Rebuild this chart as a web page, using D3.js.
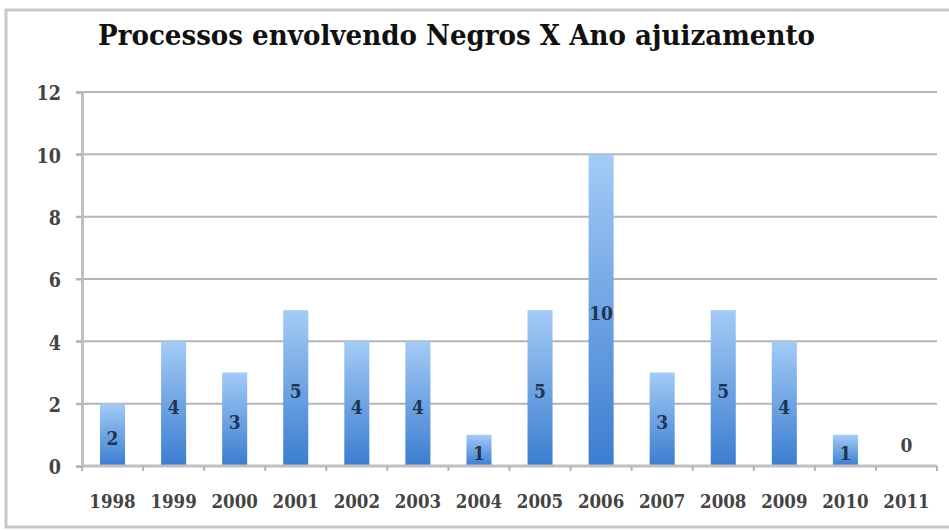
<!DOCTYPE html>
<html>
<head>
<meta charset="utf-8">
<script src="https://cdn.jsdelivr.net/npm/d3@7"></script>
<style>
  body { margin: 0; background: #fff; }
</style>
</head>
<body>
<script>
const years = ['1998', '1999', '2000', '2001', '2002', '2003', '2004', '2005', '2006', '2007', '2008', '2009', '2010', '2011']
const counts = [2, 4, 3, 5, 4, 4, 1, 5, 10, 3, 5, 4, 1, 0]
const yTicks = [0, 2, 4, 6, 8, 10, 12]
const title = 'Processos envolvendo Negros X Ano ajuizamento'

const w = 949
const h = 531
const plotLeft = 82
const plotRight = 937
const plotTop = 92
const plotBottom = 466
const labelFont = 'DejaVu Serif Condensed, DejaVu Serif, serif'

const svg = d3.select('body').append('svg')
  .attr('width', w)
  .attr('height', h)

// frame
svg.append('rect')
  .attr('x', 6).attr('y', 10)
  .attr('width', 960).attr('height', 517)
  .attr('fill', '#fff')
  .attr('stroke', '#c8c8c8')
  .attr('stroke-width', 3)

const defs = svg.append('defs')
const grad = defs.append('linearGradient')
  .attr('id', 'barGrad')
  .attr('x1', 0).attr('y1', 0).attr('x2', 0).attr('y2', 1)
grad.append('stop').attr('offset', '0%').attr('stop-color', '#a3cbf6')
grad.append('stop').attr('offset', '100%').attr('stop-color', '#3b7dd0')

const xScale = d3.scaleBand()
  .domain(years)
  .range([plotLeft, plotRight])
  .paddingInner(0.59)
  .paddingOuter(0.295)

const yScale = d3.scaleLinear()
  .domain([0, 12])
  .range([plotBottom, plotTop])

// gridlines
svg.append('g')
  .selectAll('line')
  .data(yTicks.filter(d => d > 0))
  .enter().append('line')
  .attr('x1', plotLeft - 6)
  .attr('x2', plotRight)
  .attr('y1', d => yScale(d))
  .attr('y2', d => yScale(d))
  .attr('stroke', '#b4b4b4')
  .attr('stroke-width', 2)

// y axis
const yAxis = d3.axisLeft(yScale).tickValues(yTicks).tickSize(6).tickPadding(15)
const gy = svg.append('g')
  .attr('transform', 'translate(' + plotLeft + ', 0)')
  .call(yAxis)
gy.select('.domain').attr('stroke', '#c0c0c0').attr('stroke-width', 3)
gy.selectAll('.tick line').attr('stroke', '#b4b4b4').attr('stroke-width', 2)
gy.selectAll('.tick text')
  .attr('font-family', labelFont)
  .attr('font-size', '19.5px')
  .attr('font-weight', 'bold')
  .attr('dy', '0.4em')
  .attr('fill', '#444')

// bars
svg.append('g')
  .selectAll('rect')
  .data(counts)
  .enter().append('rect')
  .attr('x', (d, i) => xScale(years[i]))
  .attr('y', d => yScale(d))
  .attr('width', xScale.bandwidth())
  .attr('height', d => plotBottom - yScale(d))
  .attr('fill', 'url(#barGrad)')

// x axis line + ticks between categories
const step = xScale.step()
const gx = svg.append('g')
gx.append('line')
  .attr('x1', plotLeft).attr('x2', plotRight)
  .attr('y1', plotBottom).attr('y2', plotBottom)
  .attr('stroke', '#c0c0c0').attr('stroke-width', 3)
gx.selectAll('line.tk')
  .data(d3.range(years.length + 1))
  .enter().append('line')
  .attr('class', 'tk')
  .attr('x1', i => plotLeft + i * step)
  .attr('x2', i => plotLeft + i * step)
  .attr('y1', plotBottom)
  .attr('y2', plotBottom + 5)
  .attr('stroke', '#b4b4b4').attr('stroke-width', 2)
gx.selectAll('text')
  .data(years)
  .enter().append('text')
  .attr('x', d => xScale(d) + xScale.bandwidth() / 2)
  .attr('y', 508)
  .attr('text-anchor', 'middle')
  .attr('font-family', labelFont)
  .attr('font-size', '18.5px')
  .attr('font-weight', 'bold')
  .attr('fill', '#444')
  .text(d => d)

// value labels
svg.append('g')
  .selectAll('text')
  .data(counts)
  .enter().append('text')
  .attr('x', (d, i) => xScale(years[i]) + xScale.bandwidth() / 2)
  .attr('y', d => d === 0 ? plotBottom - 14 : (yScale(d) + plotBottom) / 2 + 10)
  .attr('text-anchor', 'middle')
  .attr('font-family', labelFont)
  .attr('font-size', '19px')
  .attr('font-weight', 'bold')
  .attr('fill', d => d === 0 ? '#444' : '#1e3553')
  .text(d => d)

// title
svg.append('text')
  .attr('x', 98)
  .attr('y', 45)
  .attr('textLength', 717)
  .attr('lengthAdjust', 'spacingAndGlyphs')
  .attr('font-family', 'DejaVu Serif Condensed, DejaVu Serif, serif')
  .attr('font-size', '27px')
  .attr('font-weight', 'bold')
  .attr('fill', '#111')
  .text(title)
</script>
</body>
</html>
